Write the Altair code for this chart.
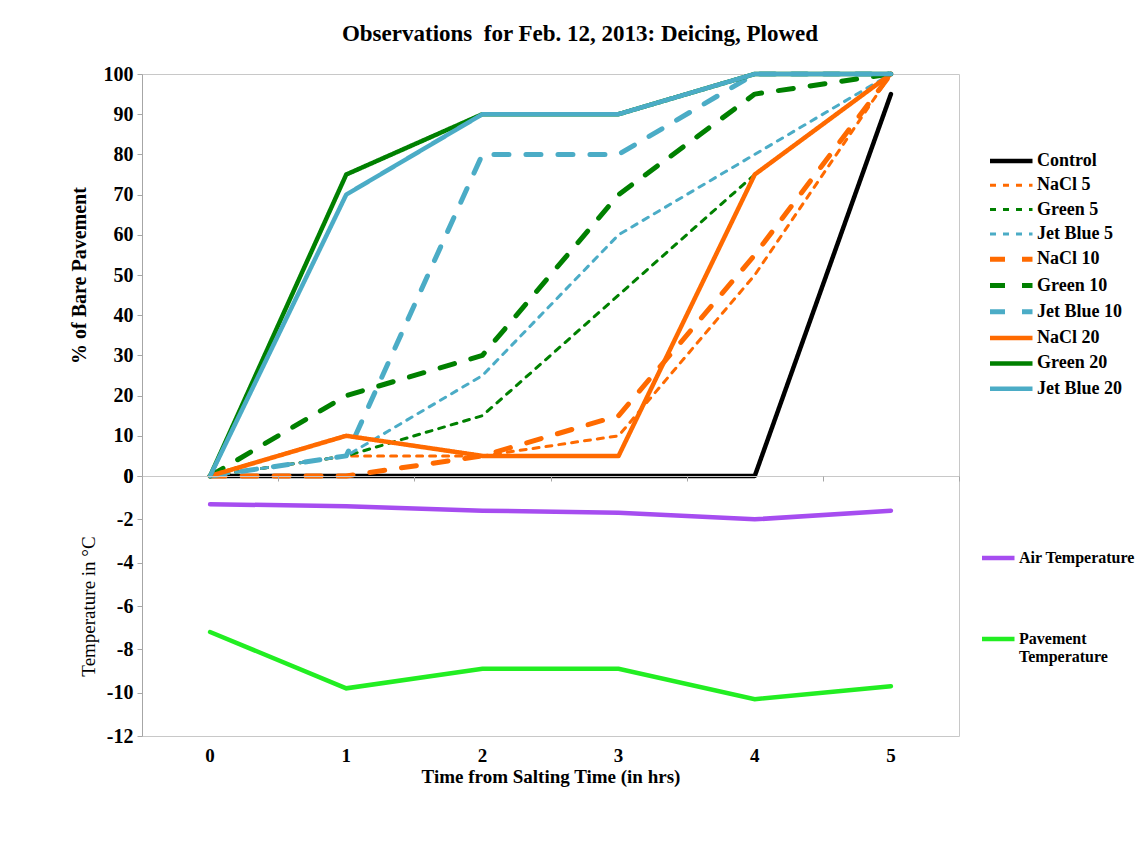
import altair as alt
import pandas as pd

hours = ["0", "1", "2", "3", "4", "5"]

series = ["Control", "NaCl 5", "Green 5", "Jet Blue 5", "NaCl 10", "Green 10",
          "Jet Blue 10", "NaCl 20", "Green 20", "Jet Blue 20"]
control = [0, 0, 0, 0, 0, 95]
nacl5 = [0, 5, 5, 10, 50, 100]
green5 = [0, 5, 15, 45, 75, 100]
jetblue5 = [0, 5, 25, 60, 80, 100]
nacl10 = [0, 0, 5, 15, 55, 100]
green10 = [0, 20, 30, 70, 95, 100]
jetblue10 = [0, 5, 80, 80, 100, 100]
nacl20 = [0, 10, 5, 5, 75, 100]
green20 = [0, 75, 90, 90, 100, 100]
jetblue20 = [0, 70, 90, 90, 100, 100]

temp_series = ["Air Temperature", "Pavement Temperature"]
air_temp = [-1.3, -1.4, -1.6, -1.7, -2.0, -1.6]
pavement_temp = [-7.2, -9.8, -8.9, -8.9, -10.3, -9.7]

ORANGE = "#FF6A00"
GREEN = "#008000"
BLUE = "#4BACC6"
colors = ["#000000", ORANGE, GREEN, BLUE, ORANGE, GREEN, BLUE, ORANGE, GREEN, BLUE]
DASH5 = [6, 7]
DASH10 = [15, 17]
dashes = [[1, 0], DASH5, DASH5, DASH5, DASH10, DASH10, DASH10, [1, 0], [1, 0], [1, 0]]
widths = [4.5, 3, 3, 3, 5, 5, 5, 4.5, 4.5, 4.5]

top_values = [control, nacl5, green5, jetblue5, nacl10, green10, jetblue10,
              nacl20, green20, jetblue20]
rows = []
for s, vals in zip(series, top_values):
    for h, v in zip(hours, vals):
        rows.append({"hour": h, "value": v, "series": s})
top_df = pd.DataFrame(rows)

trows = []
for s, vals in zip(temp_series, [air_temp, pavement_temp]):
    for h, v in zip(hours, vals):
        trows.append({"hour": h, "temp": v, "tseries": s})
bot_df = pd.DataFrame(trows)

FONT = "Liberation Serif"
W = 817
AXC = "#a6a6a6"

xscale = alt.Scale(type="band", domain=hours, paddingInner=0, paddingOuter=0)

top_legend = alt.Legend(
    title=None, orient="none", legendX=863, legendY=72, padding=0,
    symbolType="M-2.4,0H1", symbolSize=625, rowPadding=1.3, labelOffset=2,
    labelFont=FONT, labelFontSize=18, labelFontWeight="bold", labelColor="black",
    labelLimit=300,
)

top = alt.Chart(top_df).mark_line(strokeJoin="round", strokeCap="round").encode(
    x=alt.X("hour:O", scale=xscale, axis=None),
    y=alt.Y("value:Q", scale=alt.Scale(domain=[0, 100], nice=False),
            axis=alt.Axis(values=list(range(0, 101, 10)), grid=False,
                          title="% of Bare Pavement", titleFont=FONT, titleFontSize=20,
                          titleFontWeight="bold", titleColor="black", titlePadding=14,
                          labelFont=FONT, labelFontSize=20, labelFontWeight="bold",
                          labelColor="black", labelPadding=4, tickSize=5,
                          domainColor=AXC, tickColor=AXC)),
    color=alt.Color("series:N", scale=alt.Scale(domain=series, range=colors), legend=top_legend),
    strokeDash=alt.StrokeDash("series:N", scale=alt.Scale(domain=series, range=dashes), legend=top_legend),
    strokeWidth=alt.StrokeWidth("series:N", scale=alt.Scale(type="ordinal", domain=series, range=widths),
                                legend=top_legend),
).properties(width=W, height=402)

bot_legend = alt.Legend(
    title=None, orient="none", legendX=845, legendY=67, padding=0,
    symbolType="M-1.6,0H1", symbolSize=625, symbolStrokeWidth=4.5, rowPadding=57,
    labelOffset=2, labelFont=FONT, labelFontSize=16, labelFontWeight="bold",
    labelColor="black", labelLimit=300,
    labelExpr="datum.label == 'Pavement Temperature' ? ['Pavement', 'Temperature'] : datum.label",
)

bx = alt.X("hour:O", scale=xscale,
           axis=alt.Axis(title="Time from Salting Time (in hrs)", titleFont=FONT,
                         titleFontSize=19, titleFontWeight="bold", titleColor="black",
                         titlePadding=2, labelFont=FONT, labelFontSize=19,
                         labelFontWeight="bold", labelColor="black", labelAngle=0,
                         labelPadding=10, ticks=False, domain=False))

by = alt.Y("temp:Q", scale=alt.Scale(domain=[-12, 0], nice=False),
           axis=alt.Axis(values=list(range(-12, 1, 2)), grid=False,
                         title="Temperature in °C", titleFont=FONT, titleFontSize=19,
                         titleFontWeight="normal", titleColor="black", titlePadding=8,
                         labelFont=FONT, labelFontSize=20, labelFontWeight="bold",
                         labelColor="black", labelPadding=4, tickSize=5,
                         domainColor=AXC, tickColor=AXC,
                         labelExpr="datum.value == 0 ? '0' : '-' + abs(datum.value)"))

bot_lines = alt.Chart(bot_df).mark_line(strokeWidth=4.5, strokeCap="round").encode(
    x=bx,
    y=by,
    color=alt.Color("tseries:N", scale=alt.Scale(domain=temp_series, range=["#A64DF0", "#22EE22"]),
                    legend=bot_legend),
)

top_ticks = alt.Chart(bot_df).mark_line(opacity=0).encode(
    x=alt.X("hour:O", scale=xscale,
            axis=alt.Axis(orient="top", labels=False, title=None, domain=False, ticks=True,
                          tickBand="extent", tickSize=5, offset=-5, tickColor=AXC)),
    y=by,
)

bottom = alt.layer(bot_lines, top_ticks).resolve_axis(x="independent").properties(width=W, height=260)

chart = alt.vconcat(top, bottom, spacing=0, bounds="flush").resolve_scale(
    color="independent", strokeDash="independent", strokeWidth="independent"
).properties(
    title=alt.Title("Observations\u00a0 for Feb. 12, 2013: Deicing, Plowed", font=FONT,
                    fontSize=23, fontWeight="bold", color="black", anchor="middle",
                    offset=18, dx=-22),
    padding={"left": 60, "top": 14, "right": 0, "bottom": 5},
).configure_view(stroke="#c8c8c8", strokeWidth=1)

chart.save("out.html", embed_options={"renderer": "svg", "actions": False})
